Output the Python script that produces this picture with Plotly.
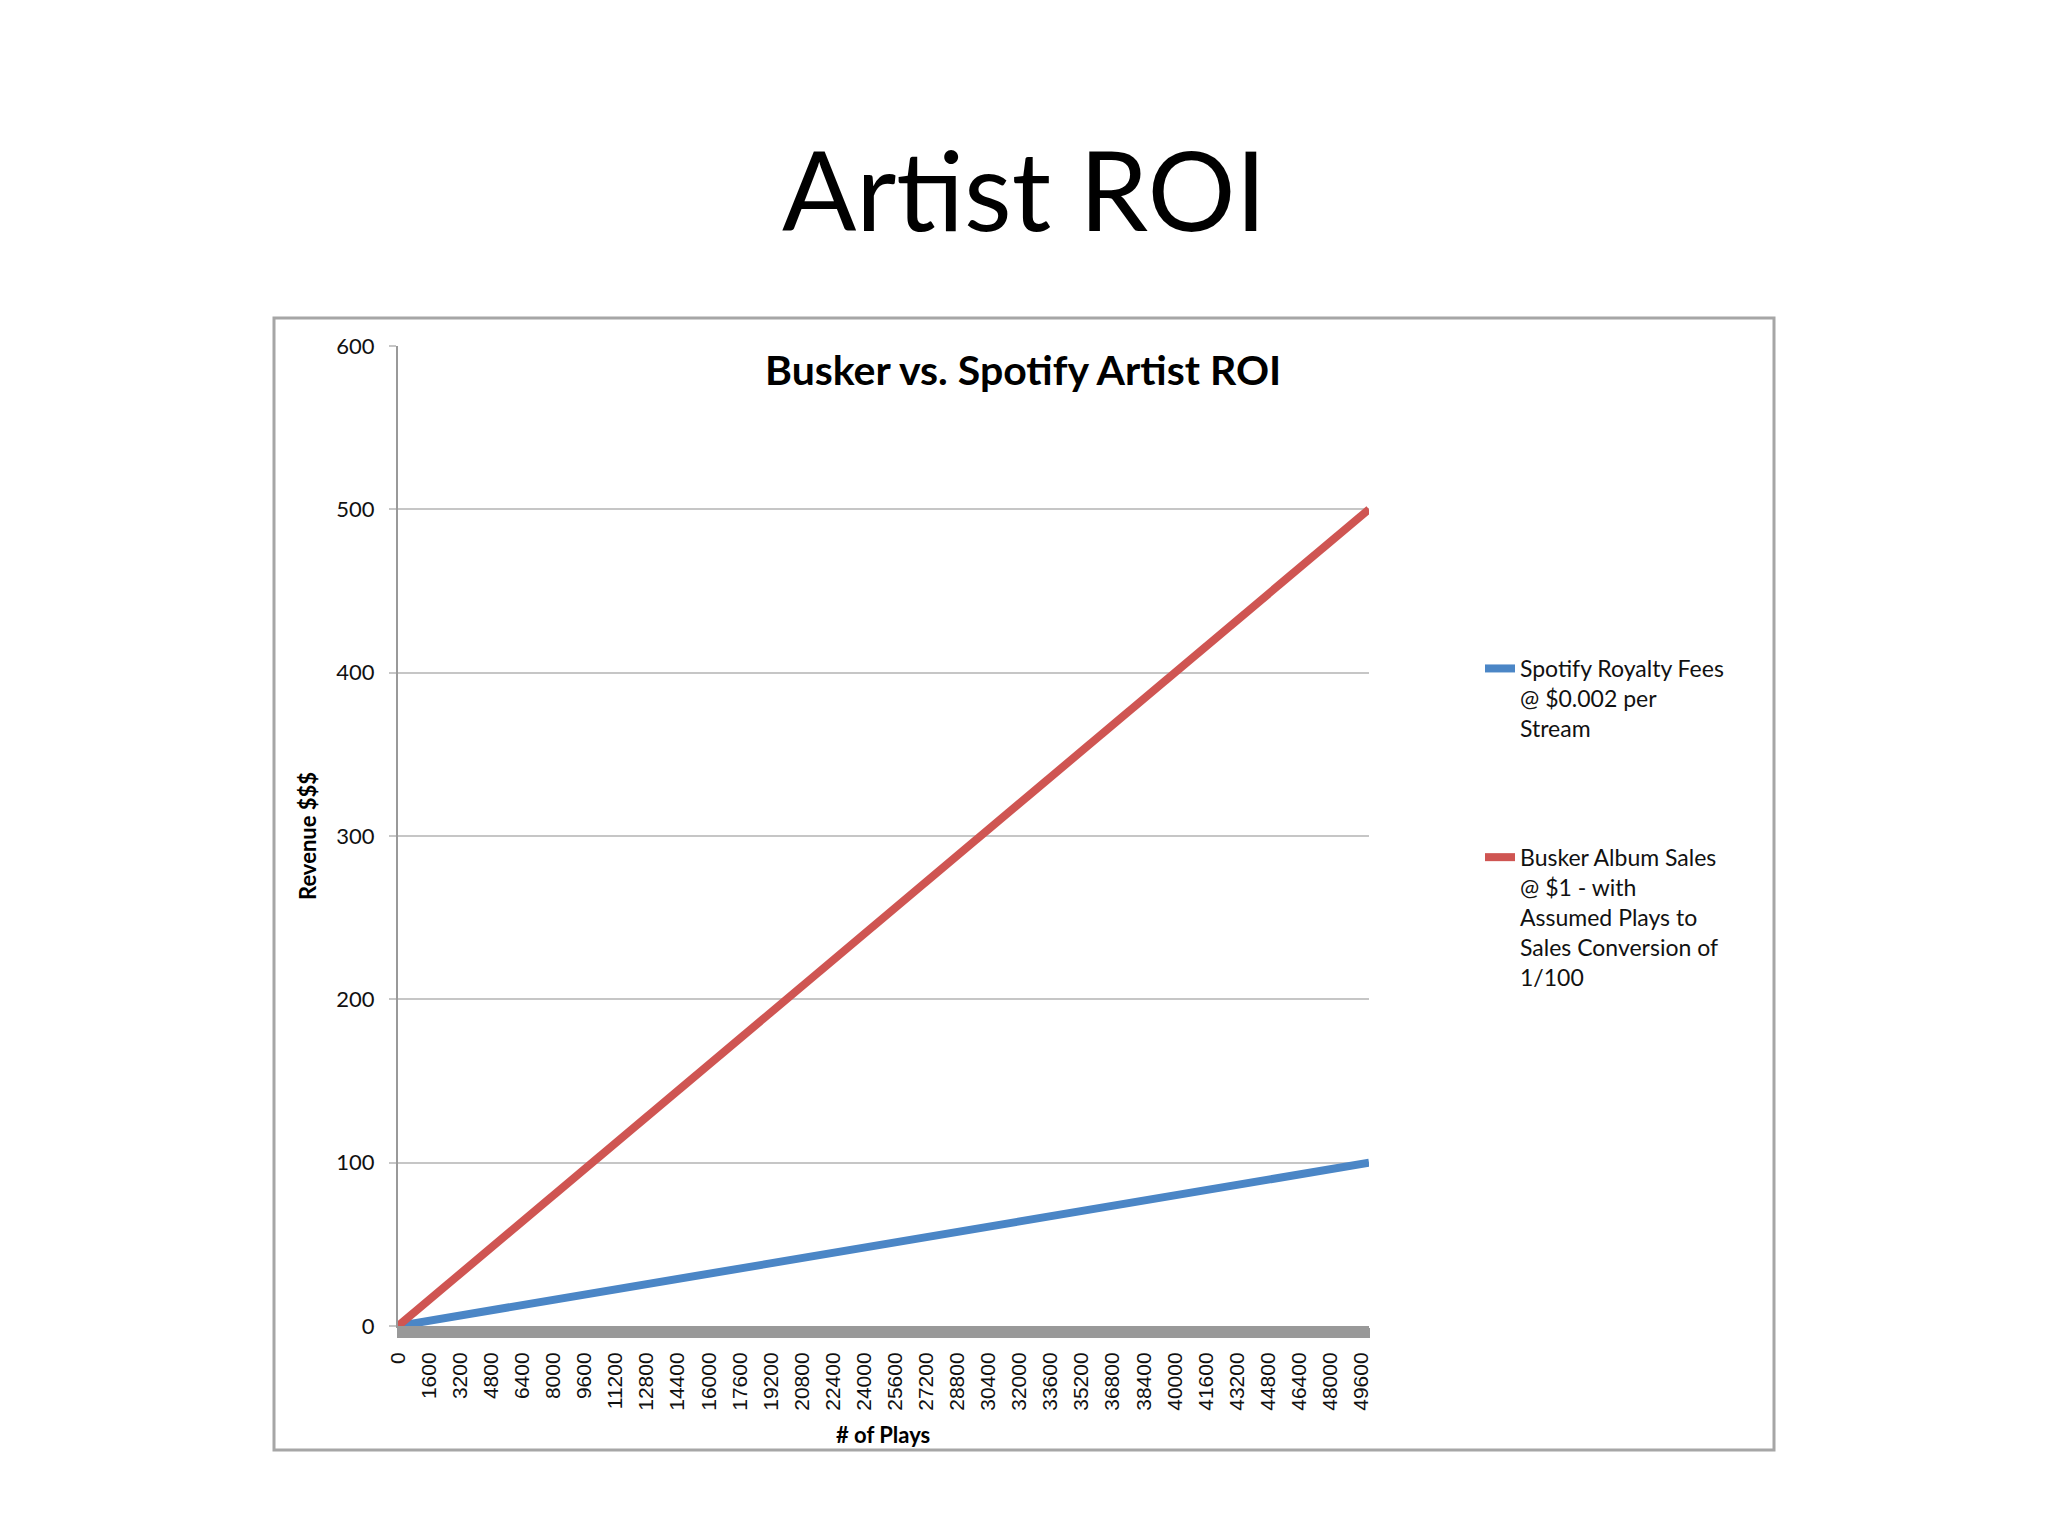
import plotly.graph_objects as go

plays = [0, 1600, 3200, 4800, 6400, 8000, 9600, 11200, 12800, 14400, 16000, 17600,
         19200, 20800, 22400, 24000, 25600, 27200, 28800, 30400, 32000, 33600, 35200,
         36800, 38400, 40000, 41600, 43200, 44800, 46400, 48000, 49600, 50000]
spotify = [0, 3.2, 6.4, 9.6, 12.8, 16, 19.2, 22.4, 25.6, 28.8, 32, 35.2, 38.4, 41.6,
           44.8, 48, 51.2, 54.4, 57.6, 60.8, 64, 67.2, 70.4, 73.6, 76.8, 80, 83.2,
           86.4, 89.6, 92.8, 96, 99.2, 100]
busker = [0, 16, 32, 48, 64, 80, 96, 112, 128, 144, 160, 176, 192, 208, 224, 240,
          256, 272, 288, 304, 320, 336, 352, 368, 384, 400, 416, 432, 448, 464, 480,
          496, 500]
x_tick_vals = plays[:-1]
x_tick_text = [str(v) for v in x_tick_vals]
y_tick_vals = [0, 100, 200, 300, 400, 500, 600]

BLUE = "#4b86c6"
RED = "#cf5552"
SANS = "Lato, Noto Sans, sans-serif"

fig = go.Figure()
fig.add_trace(go.Scatter(x=plays, y=spotify, mode="lines",
                         name="Spotify Royalty Fees<br>@ $0.002 per<br>Stream",
                         line=dict(color=BLUE, width=8), legendgroup="a"))
fig.add_trace(go.Scatter(x=plays, y=busker, mode="lines",
                         name="Busker Album Sales<br>@ $1 - with<br>Assumed Plays to<br>Sales Conversion of<br>1/100",
                         line=dict(color=RED, width=8), legendgroup="b"))

OFF = 8  # page body margin
L, R, T, B = 398 - OFF, 1369 - OFF, 346 - OFF, 1326 - OFF
W, H = 2048, 1536
pw, ph = R - L, B - T

def px(x):
    return (x - OFF - L) / pw

def py(y):
    return (B - (y - OFF)) / ph

fig.update_layout(
    width=W, height=H, autosize=False,
    margin=dict(l=L, r=W - R, t=T, b=H - B, pad=0),
    paper_bgcolor="white", plot_bgcolor="white",
    font=dict(family=SANS, color="#111111"),
    showlegend=True,
    legend=dict(x=px(1480), y=py(647), xanchor="left", yanchor="top",
                font=dict(family=SANS, size=23, color="#111111"),
                valign="top", tracegroupgap=96, itemwidth=30,
                bgcolor="rgba(0,0,0,0)", traceorder="grouped"),
    xaxis=dict(range=[0, 50000], tickmode="array", tickvals=x_tick_vals,
               ticktext=x_tick_text, tickangle=-90,
               tickfont=dict(family="Liberation Sans, Arial", size=21, color="#111111"),
               ticklabelstandoff=6,
               showgrid=False, zeroline=False, showline=True, linecolor="#999999",
               linewidth=2, ticks="outside", ticklen=10, tickcolor="#999999", tickwidth=2,
               minor=dict(ticks="outside", tickmode="linear", tick0=0, dtick=100,
                          ticklen=10, tickcolor="#999999", tickwidth=2, showgrid=False)),
    yaxis=dict(range=[0, 600], tickmode="array", tickvals=y_tick_vals,
               tickfont=dict(family=SANS, size=22, color="#111111"),
               ticklabelstandoff=10,
               showgrid=True, gridcolor="#c6c6c6", gridwidth=2, zeroline=False,
               showline=True, linecolor="#999999", linewidth=2,
               ticks="outside", ticklen=7, tickcolor="#c6c6c6", tickwidth=2),
)

# chart frame
fig.add_shape(type="rect", xref="paper", yref="paper",
              x0=px(274), x1=px(1774), y0=py(1450), y1=py(318),
              line=dict(color="#a6a6a6", width=3), layer="below")

fig.add_annotation(text="Artist ROI", xref="paper", yref="paper",
                   x=px(1024), y=py(188), xanchor="center", yanchor="middle",
                   showarrow=False, font=dict(family=SANS, size=110, color="#000000"))
fig.add_annotation(text="<b>Busker vs. Spotify Artist ROI</b>", xref="paper", yref="paper",
                   x=px(1023), y=py(370), xanchor="center", yanchor="middle",
                   showarrow=False, font=dict(family=SANS, size=41, color="#000000"))
fig.add_annotation(text="<b>Revenue $$$</b>", xref="paper", yref="paper",
                   x=px(307), y=py(836), xanchor="center", yanchor="middle",
                   textangle=-90, showarrow=False,
                   font=dict(family=SANS, size=22, color="#000000"))
fig.add_annotation(text="<b># of Plays</b>", xref="paper", yref="paper",
                   x=px(883), y=py(1434), xanchor="center", yanchor="middle",
                   showarrow=False, font=dict(family=SANS, size=22, color="#000000"))

fig.write_html("out.html")
